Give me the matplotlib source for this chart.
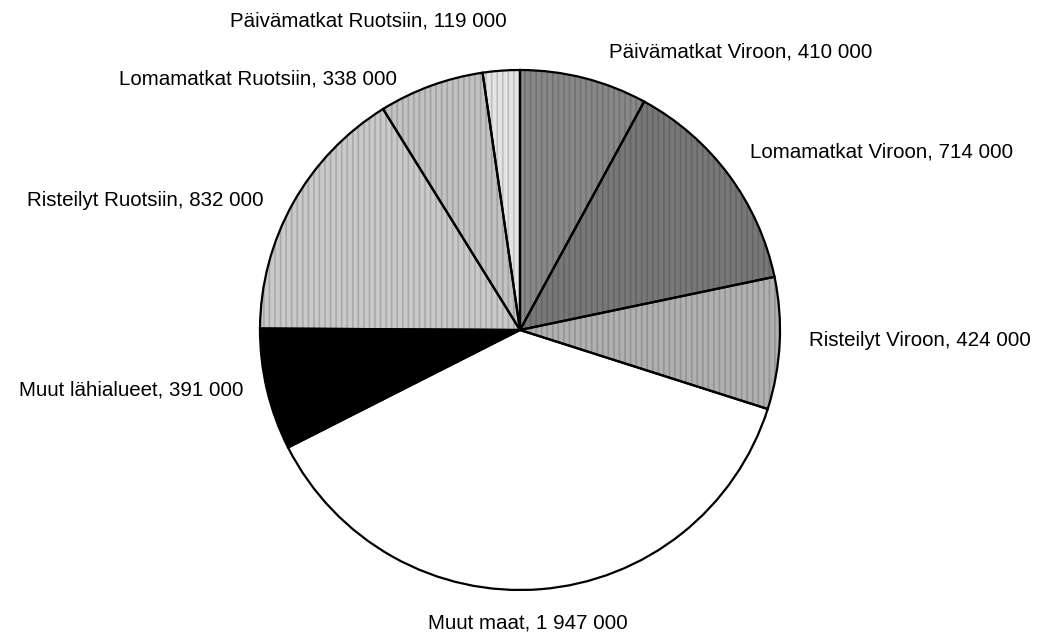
import matplotlib
matplotlib.use('Agg')
from matplotlib import pyplot as plt

# data, clockwise from 12 o'clock
labels = ['Päivämatkat Viroon', 'Lomamatkat Viroon', 'Risteilyt Viroon', 'Muut maat',
          'Muut lähialueet', 'Risteilyt Ruotsiin', 'Lomamatkat Ruotsiin', 'Päivämatkat Ruotsiin']
values = [410000, 714000, 424000, 1947000, 391000, 832000, 338000, 119000]
value_text = ['410 000', '714 000', '424 000', '1 947 000', '391 000', '832 000', '338 000', '119 000']
colors = ['#888888', '#787878', '#b0b0b0', '#ffffff', '#000000', '#cacaca', '#c2c2c2', '#e4e4e4']
textured = [True, True, True, False, False, True, True, True]

W, H = 1043, 640
cx, cy, r = 520, 330, 260   # pie centre/radius in pixels (y from top)

fig = plt.figure(figsize=(W / 100, H / 100), dpi=100)
ax = fig.add_axes([(cx - r) / W, (H - cy - r) / H, 2 * r / W, 2 * r / H])

plt.rcParams['hatch.linewidth'] = 1.2
# base fill
ax.pie(values, colors=colors, startangle=90, counterclock=False,
       wedgeprops=dict(linewidth=0))
# vertical streak texture, like the scanned original
tex, _ = ax.pie(values, colors=['none'] * len(values), startangle=90, counterclock=False,
                wedgeprops=dict(linewidth=0, edgecolor=(0, 0, 0, 0.16)))
for w, t in zip(tex, textured):
    if t:
        w.set_hatch('|||')
    else:
        w.set_visible(False)
# outlines
ax.pie(values, colors=['none'] * len(values), startangle=90, counterclock=False,
       wedgeprops=dict(edgecolor='black', linewidth=1.6))
ax.set_xlim(-1, 1)
ax.set_ylim(-1, 1)
ax.axis('off')

# label centres in pixels (x, y from top)
label_pos = [(741, 52), (882, 152), (920, 340), (528, 623),
             (131, 390), (145, 200), (258, 79), (368, 21)]
font = ['Liberation Sans Narrow', 'Liberation Sans', 'DejaVu Sans']
for lab, vt, (x, y) in zip(labels, value_text, label_pos):
    fig.text(x / W, 1 - y / H, f'{lab}, {vt}', ha='center', va='center',
             fontsize=14.8, family=font)

fig.savefig('out.png', dpi=100)
